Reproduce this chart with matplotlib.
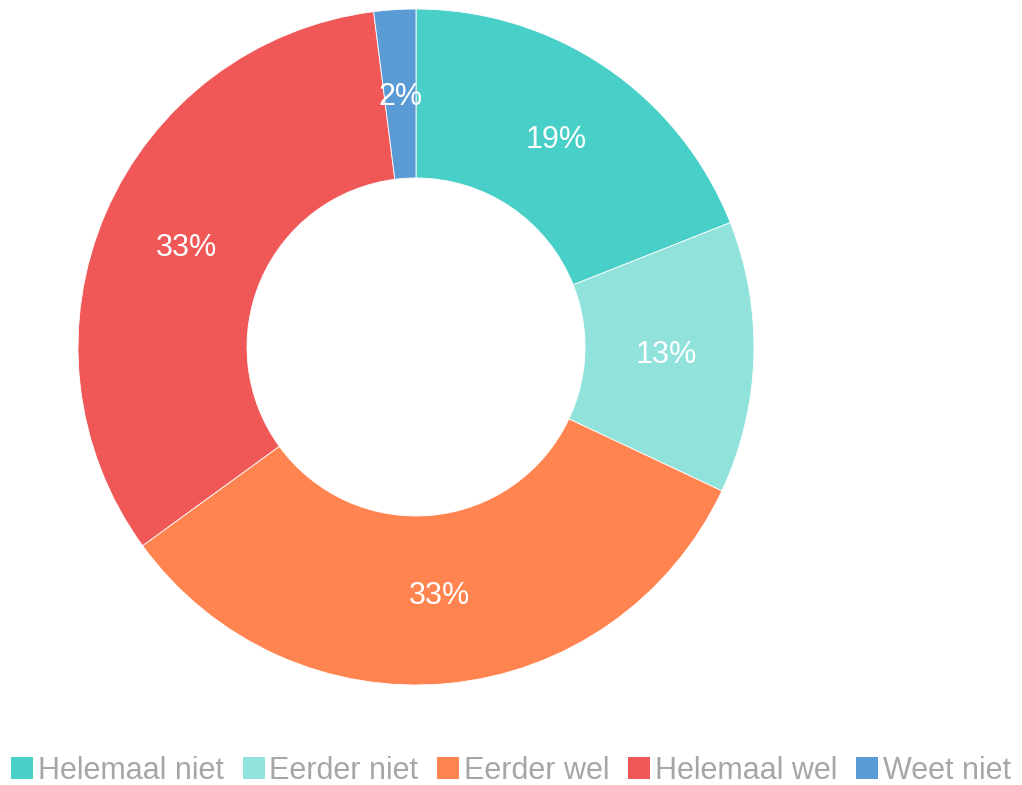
import matplotlib.pyplot as plt
from matplotlib.patches import Patch

plt.rcParams['font.family'] = ['Liberation Sans', 'DejaVu Sans']

labels = ['Helemaal niet', 'Eerder niet', 'Eerder wel', 'Helemaal wel', 'Weet niet']
values = [19, 13, 33, 33, 2]
colors = ['#48CFC8', '#92E2DC', '#FF8450', '#F05757', '#5A9BD5']

fig = plt.figure(figsize=(10.22, 7.85), dpi=100)
# donut centre ~ (416, 347) px, outer radius ~338 px
ax = fig.add_axes([(416 - 338) / 1022, (785 - 347 - 338) / 785, 676 / 1022, 676 / 785])

wedges, texts, autotexts = ax.pie(
    values, colors=colors, startangle=90, counterclock=False,
    radius=1.0, autopct='%d%%', pctdistance=0.74,
    wedgeprops=dict(width=0.5, edgecolor='white', linewidth=0.6),
    textprops=dict(color='white', fontsize=22))
ax.set_xlim(-1, 1)
ax.set_ylim(-1, 1)
ax.set_aspect('equal')
ax.axis('off')

handles = [Patch(facecolor=c, edgecolor='none') for c in colors]
leg = fig.legend(handles, labels, loc='center', bbox_to_anchor=(0.5, 1 - 771 / 785),
                 ncol=5, frameon=False, fontsize=22, handlelength=0.72, handleheight=0.72,
                 handletextpad=0.15, columnspacing=0.62, borderaxespad=0)
for t in leg.get_texts():
    t.set_color('#A6A6A6')

fig.savefig('out.png', dpi=100)
